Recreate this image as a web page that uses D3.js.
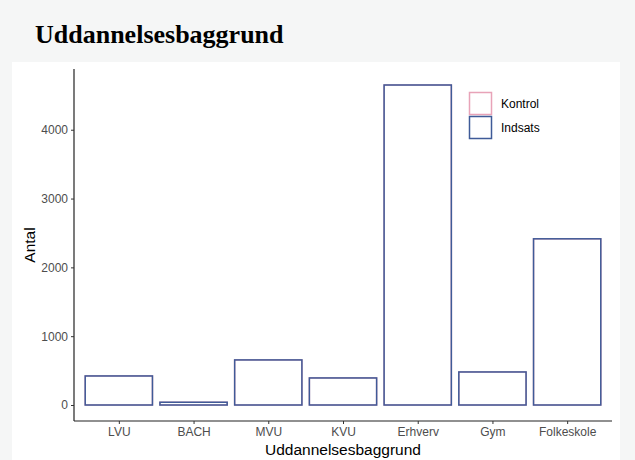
<!DOCTYPE html>
<html><head><meta charset="utf-8">
<script src="https://cdn.jsdelivr.net/npm/d3@7"></script>
<style>
html,body{margin:0;padding:0;background:#f5f6f6;}
svg{display:block;}
</style></head>
<body>
<svg id="chart" width="635" height="460"></svg>
<script>
const categories = ["LVU","BACH","MVU","KVU","Erhverv","Gym","Folkeskole"];
const kontrolValues = [422, 40, 655, 393, 4650, 480, 2415];
const indsatsValues = [422, 40, 655, 393, 4650, 480, 2415];
const yTicks = [0, 1000, 2000, 3000, 4000];
const seriesNames = ["Kontrol", "Indsats"];
const seriesColors = ["#e8a3b8", "#3f5b98"];

(function(){
const svg = d3.select("#chart");
svg.append("rect").attr("x",12).attr("y",62).attr("width",608).attr("height",398).attr("fill","#ffffff");

svg.append("text").attr("x",35).attr("y",43)
  .attr("font-family","'Liberation Serif','Times New Roman',serif")
  .attr("font-weight","bold").attr("font-size",26).attr("fill","#000")
  .text("Uddannelsesbaggrund");

const pL = 74, pR = 612, pT = 69, pB = 421;
const maxV = d3.max(indsatsValues.concat(kontrolValues));
const ext = maxV * 0.05;
const y = d3.scaleLinear().domain([-ext, maxV + ext]).range([pB, pT]);
const step = (pR - pL) / (categories.length - 1 + 1.2);
const x = d3.scalePoint().domain(categories).range([pL + 0.6*step, pR - 0.6*step]);
const bw = step * 0.9;

const data = [kontrolValues, indsatsValues];
data.forEach((vals, si) => {
  svg.append("g").selectAll("rect").data(vals).join("rect")
    .attr("x", (d,i) => x(categories[i]) - bw/2)
    .attr("y", d => y(d))
    .attr("width", bw)
    .attr("height", d => y(0) - y(d))
    .attr("fill", "none")
    .attr("stroke", seriesColors[si])
    .attr("stroke-width", 1.5);
});

const font = "'Liberation Sans', Arial, sans-serif";
const yAxis = svg.append("g").attr("transform", `translate(${pL},0)`)
  .call(d3.axisLeft(y).tickValues(yTicks).tickFormat(d3.format("d")).tickSize(3).tickPadding(3));
const xAxis = svg.append("g").attr("transform", `translate(0,${pB})`)
  .call(d3.axisBottom(x).tickSize(3).tickPadding(3));
[yAxis, xAxis].forEach(a => {
  a.select(".domain").attr("stroke","#222").attr("stroke-width",1.2);
  a.selectAll(".tick line").attr("stroke","#333");
  a.selectAll(".tick text").attr("fill","#4d4d4d").attr("font-size",12).attr("font-family",font);
});
yAxis.select(".domain").attr("d", `M0,${pT}V${pB}`);
xAxis.select(".domain").attr("d", `M${pL},0H${pR}`);

svg.append("text").attr("x", (pL+pR)/2).attr("y", 455).attr("text-anchor","middle")
  .attr("font-family",font).attr("font-size",15.5).attr("fill","#000").text("Uddannelsesbaggrund");
svg.append("text").attr("transform", `translate(35,${(pT+pB)/2}) rotate(-90)`).attr("text-anchor","middle")
  .attr("font-family",font).attr("font-size",15.5).attr("fill","#000").text("Antal");

const lg = svg.append("g");
seriesNames.forEach((n, i) => {
  lg.append("rect").attr("x",469.5).attr("y",92.5 + i*24).attr("width",22).attr("height",22)
    .attr("fill","none").attr("stroke",seriesColors[i]).attr("stroke-width",1.5);
  lg.append("text").attr("x",501).attr("y",103.5 + i*24).attr("dy","0.35em")
    .attr("font-family",font).attr("font-size",12).attr("fill","#000").text(n);
});
})();
</script>
</body></html>
